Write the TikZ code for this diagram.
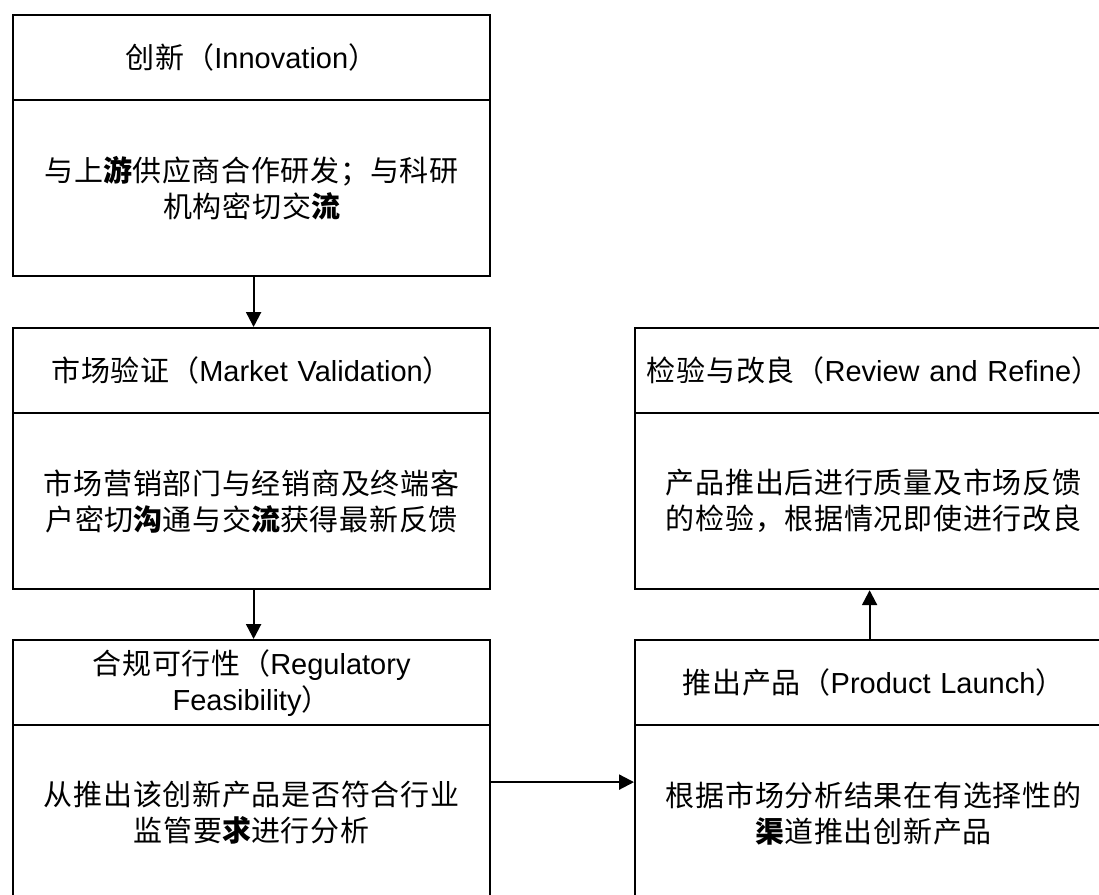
\documentclass[tikz,border=0pt]{standalone}
\usepackage{fontspec}
\setmainfont{Noto Sans CJK SC}[LetterSpace=2.5]
\newfontfamily\latinfont{Liberation Sans}
\usetikzlibrary{arrows.meta}
\newcommand\en[1]{{\latinfont #1}}
\newcommand\bd[1]{{\bfseries #1}}

\tikzset{
  every node/.style={font=\fontsize{29pt}{36pt}\selectfont},
  panel/.style={draw, line width=2.2pt, rectangle, inner sep=0pt,
    anchor=north west, minimum width=477pt, align=center, text width=470pt},
  hdr/.style={panel, minimum height=85pt},
  bdy/.style={panel, minimum height=176pt},
  arr/.style={line width=2.2pt, -{Triangle[length=15pt,width=15pt]}}
}

\begin{document}
\begin{tikzpicture}[x=1pt,y=-1pt]
\clip (0,0) rectangle (1099,894);
\fill[white] (0,0) rectangle (1099,894);

% left column
\node[hdr] (h1) at (12,14) {创新（\en{Innovation}）};
\node[bdy] (b1) at (12,99) {与上\bd{游}供应商合作研发；与科研\\机构密切交\bd{流}};

\node[hdr] (h2) at (12,327) {市场验证（\en{Market Validation}）};
\node[bdy] (b2) at (12,412) {市场营销部门与经销商及终端客\\户密切\bd{沟}通与交\bd{流}获得最新反馈};

\node[hdr] (h3) at (12,639) {合规可行性（\en{Regulatory}\\\en{Feasibility}）};
\node[bdy] (b3) at (12,724) {从推出该创新产品是否符合行业\\监管要\bd{求}进行分析};

% right column
\node[hdr] (h4) at (634,327) {检验与改良（\en{Review and Refine}）};
\node[bdy] (b4) at (634,412) {产品推出后进行质量及市场反馈\\的检验，根据情况即使进行改良};

\node[hdr] (h5) at (634,639) {推出产品（\en{Product Launch}）};
\node[bdy] (b5) at (634,724) {根据市场分析结果在有选择性的\\\bd{渠}道推出创新产品};

% connectors
\draw[arr] ([xshift=2pt]b1.south) -- ([xshift=2pt]h2.north);
\draw[arr] ([xshift=2pt]b2.south) -- ([xshift=2pt]h3.north);
\draw[arr] ([yshift=31pt]b3.east) -- ([yshift=31pt]b5.west);
\draw[arr] ([xshift=-4pt]h5.north) -- ([xshift=-4pt]b4.south);
\end{tikzpicture}
\end{document}
